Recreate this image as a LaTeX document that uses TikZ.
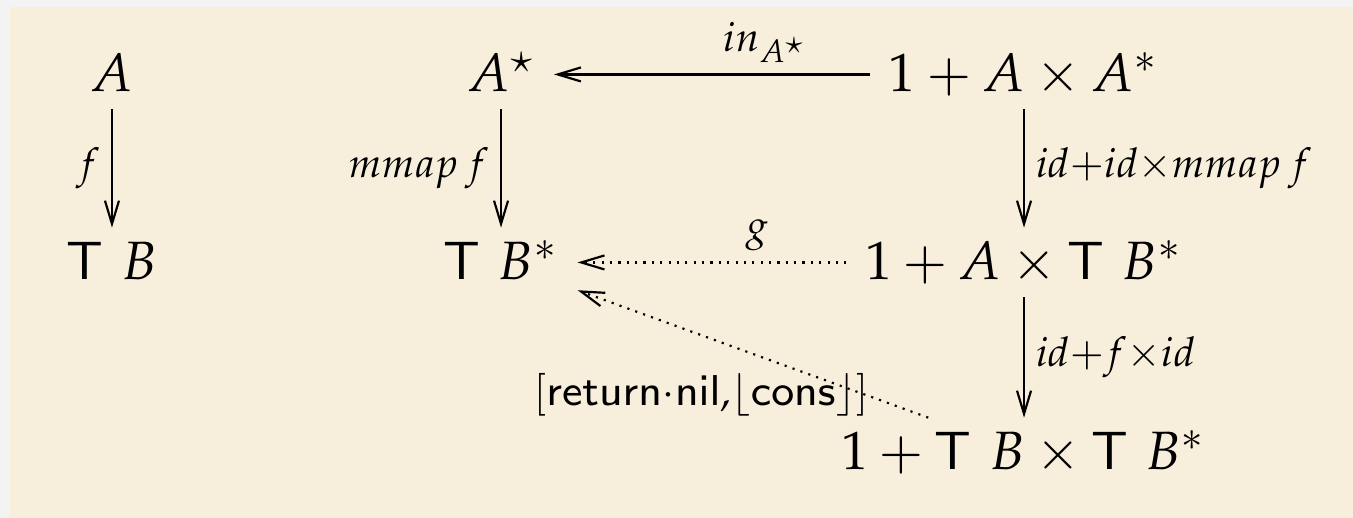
\documentclass[tikz,border=0pt]{standalone}
\usepackage{mathpazo}
\usetikzlibrary{arrows.meta}
\definecolor{paper}{RGB}{247,238,219}
\definecolor{rim}{RGB}{243,243,243}

\begin{document}
\begin{tikzpicture}[
  ob/.style={anchor=base, text height=7.5pt, text depth=1pt, inner xsep=3.3pt, inner ysep=2pt},
  lb/.style={inner sep=2pt, execute at begin node=$\scriptstyle, execute at end node=$},
  ar/.style={-{Straight Barb[length=4.3pt,width=2.6pt]}},
  dt/.style={ar, dash pattern=on 0.4pt off 1.15pt}]
% paper
\fill[rim] (0,0) rectangle (8.809,-3.372);
\fill[paper] (0.065,-0.046) rectangle (8.809,-3.372);
% objects
\node[ob] (a) at (0.729,-0.599) {$A$};
\node[ob] (tb) at (0.729,-1.823) {$\mathsf{T}\ B$};
\node[ob] (as) at (3.262,-0.599) {$A^\star$};
\node[ob] (fa) at (6.667,-0.599) {$1+A\times A^*$};
\node[ob] (tbs) at (3.262,-1.823) {$\mathsf{T}\ B^*$};
\node[ob] (fat) at (6.667,-1.823) {$1+A\times\mathsf{T}\ B^*$};
\node[ob] (ftt) at (6.667,-3.060) {$1+\mathsf{T}\ B\times\mathsf{T}\ B^*$};
\node[anchor=base, font=\fontsize{7.6}{9}\selectfont] (rn) at (4.564,-2.637) {$[\mathsf{return}{\cdot}\mathsf{nil}{,}\lfloor\mathsf{cons}\rfloor]$};
% arrows
\draw[ar] (a) -- node[lb,left]{f} (tb);
\draw[ar] (as) -- node[lb,left]{mmap\,f} (tbs);
\draw[ar] (fa) -- node[lb,above,pos=0.33]{in_{A^\star}} (as);
\draw[ar] (fa) -- node[lb,right]{id+id\times mmap\,f} (fat);
\draw[dt] (fat) -- node[lb,above,pos=0.33]{g} (tbs);
\draw[ar] (fat) -- node[lb,right]{id+f\times id} (ftt);
\draw[dt] (ftt) -- (tbs);
\end{tikzpicture}
\end{document}
